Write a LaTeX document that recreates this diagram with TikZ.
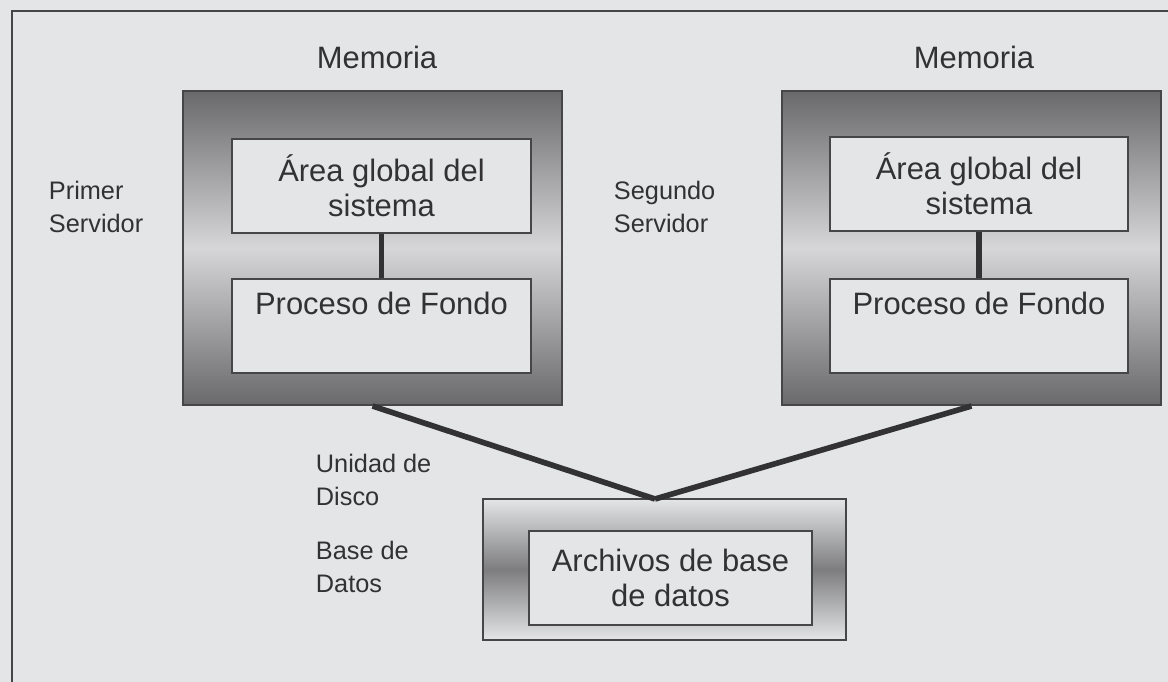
\documentclass[tikz,border=0pt]{standalone}
\usepackage{fontspec}
\setmainfont{Liberation Sans}
\definecolor{paper}{RGB}{228,229,231}
\definecolor{ink}{RGB}{50,50,52}
\definecolor{edge}{RGB}{70,70,72}
\definecolor{memdark}{RGB}{105,105,107}
\definecolor{memlight}{RGB}{214,214,216}
\definecolor{diskdark}{RGB}{125,125,127}
\begin{document}
\begin{tikzpicture}[
    x=0.025cm, y=-0.025cm,
    memory/.style={
      rectangle,
      draw=edge,
      line width=1.4pt,
      minimum width=9.45cm,
      minimum height=7.85cm,
      top color=memdark,
      bottom color=memdark,
      middle color=memlight
    },
    area/.style={
      rectangle,
      draw=edge,
      line width=1.4pt,
      fill=paper,
      text=ink,
      align=center,
      minimum width=7.45cm,
      minimum height=2.35cm,
      font=\fontsize{22}{25}\selectfont
    },
    diskbox/.style={
      rectangle,
      draw=edge,
      line width=1.4pt,
      minimum width=9.075cm,
      minimum height=3.525cm,
      top color=paper,
      bottom color=paper,
      middle color=diskdark
    },
    label/.style={
      text=ink,
      align=left,
      anchor=west,
      font=\fontsize{18}{23}\selectfont
    },
    title/.style={
      text=ink,
      font=\fontsize{22}{25}\selectfont
    },
    link/.style={
      draw=ink,
      line width=4pt
    }
  ]

  \fill[paper] (0,0) rectangle (1168,682);
  \useasboundingbox (0,0) rectangle (1168,682);
  \draw[edge, line width=1.2pt] (12,682) -- (12,11) -- (1168,11);

  \node[memory] (mem1) at (372.5, 248) {};
  \node[memory] (mem2) at (971.5, 248) {};

  \node[area] (sga1) at (381.5, 186) {Área global del\\sistema};
  \node[area] (bg1) at (381.5, 326) {Proceso de Fondo\\\strut};

  \node[area] (sga2) at (979, 184) {Área global del\\sistema};
  \node[area] (bg2) at (979, 326) {Proceso de Fondo\\\strut};

  \node[diskbox] (disk) at (664.5, 569.5) {};
  \node[area, minimum width=7.075cm] (files) at (670.5, 578) {Archivos de base\\de datos};

  \node[title] (mem1t) at (377, 57) {Memoria};
  \node[title] (mem2t) at (974, 57) {Memoria};

  \node[label] (srv1) at (44, 207) {Primer\\Servidor};
  \node[label] (srv2) at (609, 207) {Segundo\\Servidor};
  \node[label] (unit) at (311, 480) {Unidad de\\Disco};
  \node[label] (base) at (311, 567) {Base de\\Datos};

  \coordinate (tip) at (655, 499);

  \draw[link] (sga1) -- (bg1);
  \draw[link] (sga2) -- (bg2);

  \draw[link] (mem1.south) -- (tip);
  \draw[link] (mem2.south) -- (tip);

\end{tikzpicture}
\end{document}
